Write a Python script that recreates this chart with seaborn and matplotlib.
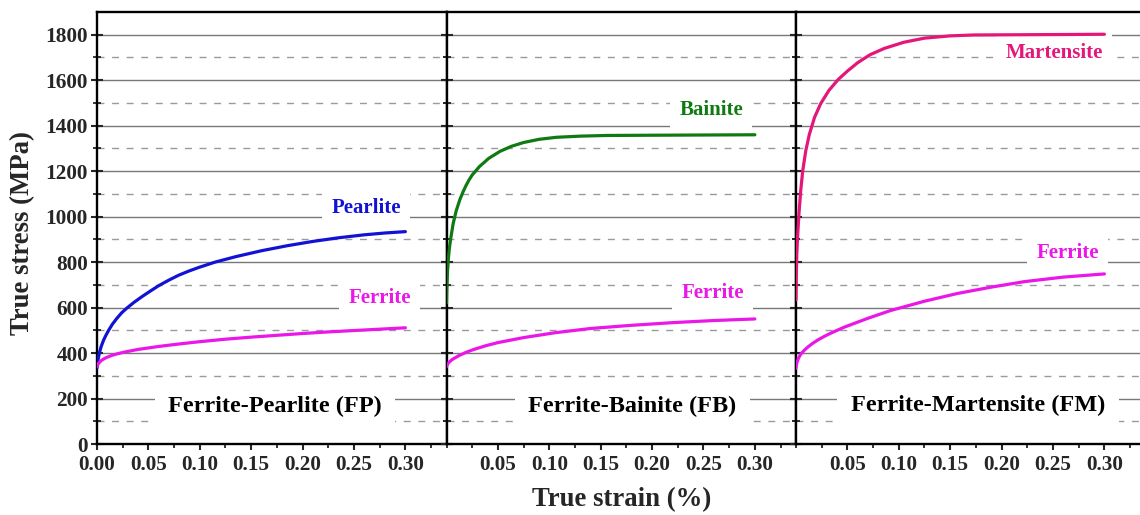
import numpy as np
import pandas as pd
import seaborn as sns
import matplotlib
matplotlib.use("Agg")
import matplotlib.pyplot as plt
from matplotlib.ticker import MultipleLocator, FixedLocator, FixedFormatter

# ---- Flow curves: true strain (-) vs true stress (MPa) ----
fp_pearlite_strain = [0.0, 0.0005, 0.0012, 0.0023, 0.004, 0.0065, 0.0090, 0.0113, 0.015, 0.0194, 0.024, 0.0291,
                      0.036, 0.0437, 0.052, 0.0599, 0.070, 0.0793, 0.0890, 0.0987, 0.1149, 0.135, 0.160, 0.185,
                      0.210, 0.235, 0.260, 0.280, 0.300]
fp_pearlite_stress = [335, 355, 375, 400, 428, 458, 481, 500, 527, 553, 577, 598,
                      623, 648, 673, 696, 721, 742, 760, 776, 800, 824, 850, 872,
                      891, 907, 920, 928, 934]

fp_ferrite_strain = [0.0, 0.001, 0.0025, 0.005, 0.009, 0.0146, 0.020, 0.0275, 0.040, 0.060, 0.080, 0.100,
                     0.125, 0.150, 0.175, 0.200, 0.225, 0.250, 0.275, 0.300]
fp_ferrite_stress = [340, 351, 360, 370, 380, 390, 397, 405, 416, 429, 440, 450,
                     461, 470, 478, 486, 493, 499, 505, 511]

fb_bainite_strain = [0.0, 0.0003, 0.001, 0.002, 0.003, 0.0045, 0.0065, 0.0094, 0.013, 0.016, 0.019, 0.022,
                     0.025, 0.032, 0.041, 0.052, 0.063, 0.075, 0.090, 0.107, 0.130, 0.156, 0.200, 0.250, 0.300]
fb_bainite_stress = [620, 680, 760, 825, 868, 915, 970, 1025, 1075, 1108, 1137, 1162,
                     1183, 1220, 1256, 1287, 1309, 1326, 1340, 1349, 1354, 1357, 1358, 1359, 1360]

fb_ferrite_strain = [0.0, 0.001, 0.003, 0.006, 0.0126, 0.019, 0.026, 0.038, 0.050, 0.075, 0.105, 0.140,
                     0.180, 0.221, 0.260, 0.300]
fb_ferrite_stress = [340, 351, 362, 373, 390, 403, 415, 432, 446, 468, 489, 508,
                     522, 534, 543, 550]

fm_martensite_strain = [0.0, 0.0003, 0.0008, 0.0017, 0.003, 0.0046, 0.0065, 0.0095, 0.013, 0.018, 0.024, 0.032,
                        0.041, 0.050, 0.060, 0.072, 0.086, 0.105, 0.125, 0.150, 0.173, 0.220, 0.260, 0.300]
fm_martensite_stress = [634, 740, 839, 925, 1020, 1115, 1200, 1290, 1362, 1436, 1497, 1555,
                        1603, 1640, 1677, 1712, 1740, 1767, 1785, 1795, 1799, 1800, 1801, 1802]

fm_ferrite_strain = [0.0, 0.0005, 0.001, 0.002, 0.0035, 0.005, 0.008, 0.0114, 0.016, 0.021, 0.027, 0.034,
                     0.047, 0.070, 0.092, 0.125, 0.157, 0.190, 0.222, 0.260, 0.300]
fm_ferrite_stress = [333, 350, 360, 373, 387, 397, 412, 426, 442, 457, 472, 488,
                     514, 553, 587, 628, 662, 690, 714, 734, 748]

panel_titles = ["Ferrite-Pearlite (FP)", "Ferrite-Bainite (FB)", "Ferrite-Martensite (FM)"]
xtick_values = [0.00, 0.05, 0.10, 0.15, 0.20, 0.25, 0.30]
ytick_values = [0, 200, 400, 600, 800, 1000, 1200, 1400, 1600, 1800]
ytick_minor = [100, 300, 500, 700, 900, 1100, 1300, 1500, 1700]

blue = "#1212d6"
green = "#0f7a12"
pink = "#e5167a"
magenta = "#eb16e8"

panels = [
    {
        "title": panel_titles[0],
        "curves": [
            ("Pearlite", fp_pearlite_strain, fp_pearlite_stress, blue, (0.262, 1037)),
            ("Ferrite", fp_ferrite_strain, fp_ferrite_stress, magenta, (0.275, 641)),
        ],
        "title_pos": (0.173, 164),
        "show_zero": True,
    },
    {
        "title": panel_titles[1],
        "curves": [
            ("Bainite", fb_bainite_strain, fb_bainite_stress, green, (0.2575, 1470)),
            ("Ferrite", fb_ferrite_strain, fb_ferrite_stress, magenta, (0.259, 666)),
        ],
        "title_pos": (0.181, 164),
        "show_zero": False,
    },
    {
        "title": panel_titles[2],
        "curves": [
            ("Martensite", fm_martensite_strain, fm_martensite_stress, pink, (0.251, 1720)),
            ("Ferrite", fm_ferrite_strain, fm_ferrite_stress, magenta, (0.264, 842)),
        ],
        "title_pos": (0.177, 170),
        "show_zero": False,
    },
]

sns.set_style("white")
plt.rcParams["font.family"] = ["Liberation Serif", "DejaVu Serif"]
plt.rcParams["font.weight"] = "bold"
plt.rcParams["axes.labelweight"] = "bold"

W, H = 1140, 515
fig = plt.figure(figsize=(W / 100, H / 100), dpi=100)
fig.patch.set_facecolor("white")

left_px, top_px, bottom_px = 97, 12, 444
panel_w = 349.5
axes = []
for i, p in enumerate(panels):
    ax = fig.add_axes([(left_px + i * panel_w) / W, (H - bottom_px) / H,
                       panel_w / W, (bottom_px - top_px) / H])
    axes.append(ax)
    ax.set_xlim(0, 0.34)
    ax.set_ylim(0, 1900)
    ax.set_axisbelow(True)

    # horizontal grid: solid at majors, dashed at minors
    ax.yaxis.set_major_locator(FixedLocator(ytick_values))
    ax.yaxis.set_minor_locator(FixedLocator(ytick_minor))
    ax.grid(axis="y", which="major", color="#787878", lw=1.0, ls="-")
    ax.grid(axis="y", which="minor", color="#9a9a9a", lw=1.0, ls=(0, (5, 5.5)))
    ax.grid(axis="x", which="both", visible=False)

    for name, xs, ys, col, lab_pos in p["curves"]:
        df = pd.DataFrame({"strain": xs, "stress": ys})
        sns.lineplot(data=df, x="strain", y="stress", ax=ax, color=col, lw=2.3,
                     estimator=None, sort=False, zorder=6)
        ax.text(lab_pos[0], lab_pos[1], name, color=col, fontsize=15,
                fontweight="bold", ha="center", va="center", zorder=5,
                bbox=dict(boxstyle="square,pad=0.45", fc="white", ec="none"))

    ax.text(p["title_pos"][0], p["title_pos"][1], p["title"], color="black",
            fontsize=17.5, fontweight="bold", ha="center", va="center", zorder=5,
            bbox=dict(boxstyle="square,pad=0.55", fc="white", ec="none"))

    ticks = xtick_values if p["show_zero"] else xtick_values[1:]
    ax.xaxis.set_major_locator(FixedLocator(ticks))
    ax.xaxis.set_major_formatter(FixedFormatter([f"{t:.2f}" for t in ticks]))
    ax.xaxis.set_minor_locator(MultipleLocator(0.025))

    ax.tick_params(axis="x", which="major", direction="out", length=4, width=1.5,
                   labelsize=15.3, pad=4, bottom=True, top=False)
    ax.tick_params(axis="x", which="minor", direction="out", length=3, width=1.3,
                   bottom=True, top=False)
    ax.tick_params(axis="y", which="major", direction="inout", length=9, width=1.5,
                   left=True, right=True, labelsize=15.3, pad=2,
                   labelleft=(i == 0))
    ax.tick_params(axis="y", which="minor", direction="inout", length=5.5, width=1.3,
                   left=True, right=True)
    for lab in ax.get_xticklabels() + ax.get_yticklabels():
        lab.set_fontweight("bold")

    for s in ax.spines.values():
        s.set_visible(True)
        s.set_color("black")
        s.set_linewidth(1.7)
    ax.set_xlabel("")
    ax.set_ylabel("")

fig.text(622 / W, 1 - 500 / H, "True strain (%)", fontsize=19.3, fontweight="bold",
         ha="center", va="center")
fig.text(23 / W, 1 - 233 / H, "True stress (MPa)", fontsize=19.3, fontweight="bold",
         ha="center", va="center", rotation=90)

fig.savefig("out.png", dpi=100, facecolor="white")
